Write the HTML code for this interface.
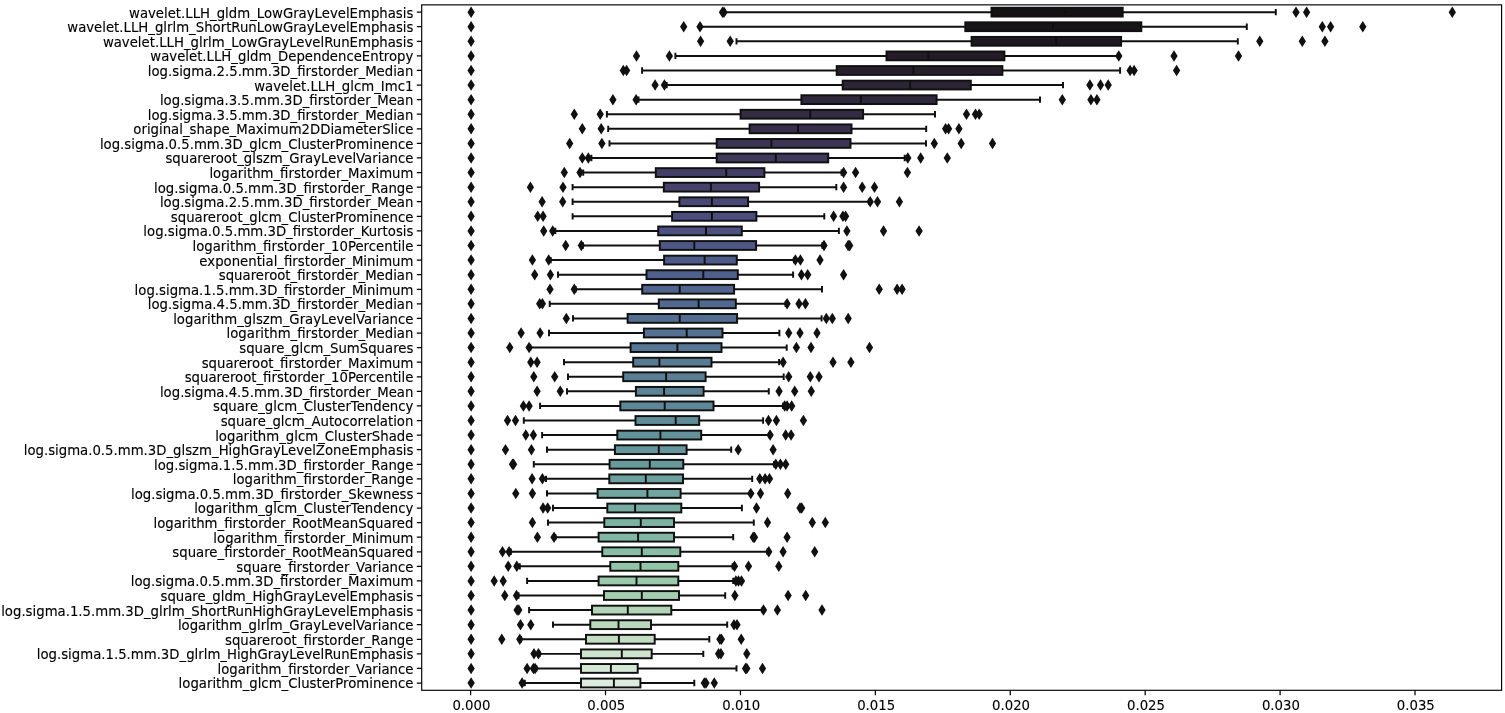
<!DOCTYPE html>
<html lang="en"><head><meta charset="utf-8"><title>Feature importance boxplot</title>
<style>html,body{margin:0;padding:0;background:#fff}body{width:1505px;height:713px;overflow:hidden}svg{display:block}text{font-family:"DejaVu Sans","Liberation Sans",sans-serif;font-size:13.27px;fill:#000;stroke:#000;stroke-width:.12px}.yl{text-anchor:end}.xl{text-anchor:middle}.w{stroke:#101010;stroke-width:1.95;fill:none;stroke-linecap:square}.b{stroke:#101010;stroke-width:1.95}.d{fill:#101010;stroke:#101010;stroke-width:0}.t{stroke:#000;stroke-width:1.25;fill:none}</style></head><body>
<svg width="1505" height="713" viewBox="0 0 1505 713">
<rect x="0" y="0" width="1505" height="713" fill="#fff"/>
<g><text class="yl" x="413.4" y="18">wavelet.LLH_gldm_LowGrayLevelEmphasis</text><text class="yl" x="413.4" y="32">wavelet.LLH_glrlm_ShortRunLowGrayLevelEmphasis</text><text class="yl" x="413.4" y="47">wavelet.LLH_glrlm_LowGrayLevelRunEmphasis</text><text class="yl" x="413.4" y="61">wavelet.LLH_gldm_DependenceEntropy</text><text class="yl" x="413.4" y="76">log.sigma.2.5.mm.3D_firstorder_Median</text><text class="yl" x="413.4" y="91">wavelet.LLH_glcm_Imc1</text><text class="yl" x="413.4" y="105">log.sigma.3.5.mm.3D_firstorder_Mean</text><text class="yl" x="413.4" y="120">log.sigma.3.5.mm.3D_firstorder_Median</text><text class="yl" x="413.4" y="134">original_shape_Maximum2DDiameterSlice</text><text class="yl" x="413.4" y="149">log.sigma.0.5.mm.3D_glcm_ClusterProminence</text><text class="yl" x="413.4" y="163">squareroot_glszm_GrayLevelVariance</text><text class="yl" x="413.4" y="178">logarithm_firstorder_Maximum</text><text class="yl" x="413.4" y="193">log.sigma.0.5.mm.3D_firstorder_Range</text><text class="yl" x="413.4" y="207">log.sigma.2.5.mm.3D_firstorder_Mean</text><text class="yl" x="413.4" y="222">squareroot_glcm_ClusterProminence</text><text class="yl" x="413.4" y="236">log.sigma.0.5.mm.3D_firstorder_Kurtosis</text><text class="yl" x="413.4" y="251">logarithm_firstorder_10Percentile</text><text class="yl" x="413.4" y="266">exponential_firstorder_Minimum</text><text class="yl" x="413.4" y="280">squareroot_firstorder_Median</text><text class="yl" x="413.4" y="295">log.sigma.1.5.mm.3D_firstorder_Minimum</text><text class="yl" x="413.4" y="309">log.sigma.4.5.mm.3D_firstorder_Median</text><text class="yl" x="413.4" y="324">logarithm_glszm_GrayLevelVariance</text><text class="yl" x="413.4" y="338">logarithm_firstorder_Median</text><text class="yl" x="413.4" y="353">square_glcm_SumSquares</text><text class="yl" x="413.4" y="368">squareroot_firstorder_Maximum</text><text class="yl" x="413.4" y="382">squareroot_firstorder_10Percentile</text><text class="yl" x="413.4" y="397">log.sigma.4.5.mm.3D_firstorder_Mean</text><text class="yl" x="413.4" y="411">square_glcm_ClusterTendency</text><text class="yl" x="413.4" y="426">square_glcm_Autocorrelation</text><text class="yl" x="413.4" y="441">logarithm_glcm_ClusterShade</text><text class="yl" x="413.4" y="455">log.sigma.0.5.mm.3D_glszm_HighGrayLevelZoneEmphasis</text><text class="yl" x="413.4" y="470">log.sigma.1.5.mm.3D_firstorder_Range</text><text class="yl" x="413.4" y="484">logarithm_firstorder_Range</text><text class="yl" x="413.4" y="499">log.sigma.0.5.mm.3D_firstorder_Skewness</text><text class="yl" x="413.4" y="513">logarithm_glcm_ClusterTendency</text><text class="yl" x="413.4" y="528">logarithm_firstorder_RootMeanSquared</text><text class="yl" x="413.4" y="543">logarithm_firstorder_Minimum</text><text class="yl" x="413.4" y="557">square_firstorder_RootMeanSquared</text><text class="yl" x="413.4" y="572">square_firstorder_Variance</text><text class="yl" x="413.4" y="586">log.sigma.0.5.mm.3D_firstorder_Maximum</text><text class="yl" x="413.4" y="601">square_gldm_HighGrayLevelEmphasis</text><text class="yl" x="413.4" y="616">log.sigma.1.5.mm.3D_glrlm_ShortRunHighGrayLevelEmphasis</text><text class="yl" x="413.4" y="630">logarithm_glrlm_GrayLevelVariance</text><text class="yl" x="413.4" y="645">squareroot_firstorder_Range</text><text class="yl" x="413.4" y="659">log.sigma.1.5.mm.3D_glrlm_HighGrayLevelRunEmphasis</text><text class="yl" x="413.4" y="674">logarithm_firstorder_Variance</text><text class="yl" x="413.4" y="688">logarithm_glcm_ClusterProminence</text></g>
<path class="t" d="M416.8 12.15H421.7M416.8 26.73H421.7M416.8 41.32H421.7M416.8 55.9H421.7M416.8 70.49H421.7M416.8 85.07H421.7M416.8 99.65H421.7M416.8 114.24H421.7M416.8 128.82H421.7M416.8 143.41H421.7M416.8 157.99H421.7M416.8 172.57H421.7M416.8 187.16H421.7M416.8 201.74H421.7M416.8 216.33H421.7M416.8 230.91H421.7M416.8 245.49H421.7M416.8 260.08H421.7M416.8 274.66H421.7M416.8 289.25H421.7M416.8 303.83H421.7M416.8 318.41H421.7M416.8 333H421.7M416.8 347.58H421.7M416.8 362.17H421.7M416.8 376.75H421.7M416.8 391.33H421.7M416.8 405.92H421.7M416.8 420.5H421.7M416.8 435.09H421.7M416.8 449.67H421.7M416.8 464.25H421.7M416.8 478.84H421.7M416.8 493.42H421.7M416.8 508.01H421.7M416.8 522.59H421.7M416.8 537.17H421.7M416.8 551.76H421.7M416.8 566.34H421.7M416.8 580.93H421.7M416.8 595.51H421.7M416.8 610.09H421.7M416.8 624.68H421.7M416.8 639.26H421.7M416.8 653.85H421.7M416.8 668.43H421.7M416.8 683.01H421.7M470.6 690.3V695.2M605.51 690.3V695.2M740.43 690.3V695.2M875.34 690.3V695.2M1010.26 690.3V695.2M1145.17 690.3V695.2M1280.09 690.3V695.2M1415 690.3V695.2"/>
<text class="xl" x="471.4" y="710">0.000</text>
<text class="xl" x="606.31" y="710">0.005</text>
<text class="xl" x="741.23" y="710">0.010</text>
<text class="xl" x="876.14" y="710">0.015</text>
<text class="xl" x="1011.06" y="710">0.020</text>
<text class="xl" x="1145.97" y="710">0.025</text>
<text class="xl" x="1280.89" y="710">0.030</text>
<text class="xl" x="1415.8" y="710">0.035</text>
<path class="w" d="M725 12.15H991.5M1122.7 12.15H1275.8M725 9.95V14.35M1275.8 9.95V14.35"/>
<rect class="b" x="991.5" y="7.75" width="131.2" height="8.8" fill="#151114"/>
<path class="w" style="stroke-linecap:butt" d="M1065.3 7.75V16.55"/>
<path class="d" d="M471.1 6.4L474.75 12.15L471.1 17.9L467.45 12.15Z"/>
<path class="d" d="M722.5 6.4L726.15 12.15L722.5 17.9L718.85 12.15Z"/>
<path class="d" d="M724 6.4L727.65 12.15L724 17.9L720.35 12.15Z"/>
<path class="d" d="M1296 6.4L1299.65 12.15L1296 17.9L1292.35 12.15Z"/>
<path class="d" d="M1306.6 6.4L1310.25 12.15L1306.6 17.9L1302.95 12.15Z"/>
<path class="d" d="M1452.3 6.4L1455.95 12.15L1452.3 17.9L1448.65 12.15Z"/>
<path class="w" d="M701 26.73H965.3M1141.3 26.73H1246.8M701 24.53V28.93M1246.8 24.53V28.93"/>
<rect class="b" x="965.3" y="22.33" width="176" height="8.8" fill="#191419"/>
<path class="w" style="stroke-linecap:butt" d="M1053 22.33V31.13"/>
<path class="d" d="M471.1 20.98L474.75 26.73L471.1 32.48L467.45 26.73Z"/>
<path class="d" d="M683.7 20.98L687.35 26.73L683.7 32.48L680.05 26.73Z"/>
<path class="d" d="M700 20.98L703.65 26.73L700 32.48L696.35 26.73Z"/>
<path class="d" d="M1322.3 20.98L1325.95 26.73L1322.3 32.48L1318.65 26.73Z"/>
<path class="d" d="M1330.6 20.98L1334.25 26.73L1330.6 32.48L1326.95 26.73Z"/>
<path class="d" d="M1362.8 20.98L1366.45 26.73L1362.8 32.48L1359.15 26.73Z"/>
<path class="w" d="M736.5 41.32H971.6M1121.1 41.32H1237.8M736.5 39.12V43.52M1237.8 39.12V43.52"/>
<rect class="b" x="971.6" y="36.92" width="149.5" height="8.8" fill="#1e1820"/>
<path class="w" style="stroke-linecap:butt" d="M1056.3 36.92V45.72"/>
<path class="d" d="M471.1 35.57L474.75 41.32L471.1 47.07L467.45 41.32Z"/>
<path class="d" d="M700.6 35.57L704.25 41.32L700.6 47.07L696.95 41.32Z"/>
<path class="d" d="M730.2 35.57L733.85 41.32L730.2 47.07L726.55 41.32Z"/>
<path class="d" d="M1259.8 35.57L1263.45 41.32L1259.8 47.07L1256.15 41.32Z"/>
<path class="d" d="M1302.3 35.57L1305.95 41.32L1302.3 47.07L1298.65 41.32Z"/>
<path class="d" d="M1324.9 35.57L1328.55 41.32L1324.9 47.07L1321.25 41.32Z"/>
<path class="w" d="M675.4 55.9H886.5M1004.4 55.9H1117.8M675.4 53.7V58.1M1117.8 53.7V58.1"/>
<rect class="b" x="886.5" y="51.5" width="117.9" height="8.8" fill="#231c26"/>
<path class="w" style="stroke-linecap:butt" d="M928.5 51.5V60.3"/>
<path class="d" d="M471.1 50.15L474.75 55.9L471.1 61.65L467.45 55.9Z"/>
<path class="d" d="M636.5 50.15L640.15 55.9L636.5 61.65L632.85 55.9Z"/>
<path class="d" d="M669.4 50.15L673.05 55.9L669.4 61.65L665.75 55.9Z"/>
<path class="d" d="M1118.8 50.15L1122.45 55.9L1118.8 61.65L1115.15 55.9Z"/>
<path class="d" d="M1174 50.15L1177.65 55.9L1174 61.65L1170.35 55.9Z"/>
<path class="d" d="M1238.5 50.15L1242.15 55.9L1238.5 61.65L1234.85 55.9Z"/>
<path class="w" d="M642.1 70.49H836.7M1002.4 70.49H1120.1M642.1 68.29V72.69M1120.1 68.29V72.69"/>
<rect class="b" x="836.7" y="66.09" width="165.7" height="8.8" fill="#27202c"/>
<path class="w" style="stroke-linecap:butt" d="M913.4 66.09V74.89"/>
<path class="d" d="M471.1 64.74L474.75 70.49L471.1 76.24L467.45 70.49Z"/>
<path class="d" d="M623.3 64.74L626.95 70.49L623.3 76.24L619.65 70.49Z"/>
<path class="d" d="M626.6 64.74L630.25 70.49L626.6 76.24L622.95 70.49Z"/>
<path class="d" d="M1130.1 64.74L1133.75 70.49L1130.1 76.24L1126.45 70.49Z"/>
<path class="d" d="M1134.1 64.74L1137.75 70.49L1134.1 76.24L1130.45 70.49Z"/>
<path class="d" d="M1176.6 64.74L1180.25 70.49L1176.6 76.24L1172.95 70.49Z"/>
<path class="w" d="M666.7 85.07H842.7M970.8 85.07H1063M666.7 82.87V87.27M1063 82.87V87.27"/>
<rect class="b" x="842.7" y="80.67" width="128.1" height="8.8" fill="#2c2434"/>
<path class="w" style="stroke-linecap:butt" d="M910.1 80.67V89.47"/>
<path class="d" d="M471.1 79.32L474.75 85.07L471.1 90.82L467.45 85.07Z"/>
<path class="d" d="M655.1 79.32L658.75 85.07L655.1 90.82L651.45 85.07Z"/>
<path class="d" d="M664.4 79.32L668.05 85.07L664.4 90.82L660.75 85.07Z"/>
<path class="d" d="M1089.9 79.32L1093.55 85.07L1089.9 90.82L1086.25 85.07Z"/>
<path class="d" d="M1100.5 79.32L1104.15 85.07L1100.5 90.82L1096.85 85.07Z"/>
<path class="d" d="M1108.2 79.32L1111.85 85.07L1108.2 90.82L1104.55 85.07Z"/>
<path class="w" d="M638.5 99.65H801.4M936.6 99.65H1040M638.5 97.45V101.85M1040 97.45V101.85"/>
<rect class="b" x="801.4" y="95.25" width="135.2" height="8.8" fill="#30283b"/>
<path class="w" style="stroke-linecap:butt" d="M860.9 95.25V104.05"/>
<path class="d" d="M471.1 93.9L474.75 99.65L471.1 105.4L467.45 99.65Z"/>
<path class="d" d="M612.9 93.9L616.55 99.65L612.9 105.4L609.25 99.65Z"/>
<path class="d" d="M636.1 93.9L639.75 99.65L636.1 105.4L632.45 99.65Z"/>
<path class="d" d="M1062.3 93.9L1065.95 99.65L1062.3 105.4L1058.65 99.65Z"/>
<path class="d" d="M1090.9 93.9L1094.55 99.65L1090.9 105.4L1087.25 99.65Z"/>
<path class="d" d="M1096.9 93.9L1100.55 99.65L1096.9 105.4L1093.25 99.65Z"/>
<path class="w" d="M606.9 114.24H740.6M863.1 114.24H935M606.9 112.04V116.44M935 112.04V116.44"/>
<rect class="b" x="740.6" y="109.84" width="122.5" height="8.8" fill="#342c42"/>
<path class="w" style="stroke-linecap:butt" d="M810.3 109.84V118.64"/>
<path class="d" d="M471.1 108.49L474.75 114.24L471.1 119.99L467.45 114.24Z"/>
<path class="d" d="M574.3 108.49L577.95 114.24L574.3 119.99L570.65 114.24Z"/>
<path class="d" d="M600.2 108.49L603.85 114.24L600.2 119.99L596.55 114.24Z"/>
<path class="d" d="M966.5 108.49L970.15 114.24L966.5 119.99L962.85 114.24Z"/>
<path class="d" d="M975.5 108.49L979.15 114.24L975.5 119.99L971.85 114.24Z"/>
<path class="d" d="M979.2 108.49L982.85 114.24L979.2 119.99L975.55 114.24Z"/>
<path class="w" d="M608.2 128.82H749.6M851.5 128.82H926.2M608.2 126.62V131.02M926.2 126.62V131.02"/>
<rect class="b" x="749.6" y="124.42" width="101.9" height="8.8" fill="#38304b"/>
<path class="w" style="stroke-linecap:butt" d="M798 124.42V133.22"/>
<path class="d" d="M471.1 123.07L474.75 128.82L471.1 134.57L467.45 128.82Z"/>
<path class="d" d="M582.3 123.07L585.95 128.82L582.3 134.57L578.65 128.82Z"/>
<path class="d" d="M601.2 123.07L604.85 128.82L601.2 134.57L597.55 128.82Z"/>
<path class="d" d="M945.6 123.07L949.25 128.82L945.6 134.57L941.95 128.82Z"/>
<path class="d" d="M948.6 123.07L952.25 128.82L948.6 134.57L944.95 128.82Z"/>
<path class="d" d="M958.9 123.07L962.55 128.82L958.9 134.57L955.25 128.82Z"/>
<path class="w" d="M609.5 143.41H716.7M850.5 143.41H926M609.5 141.21V145.61M926 141.21V145.61"/>
<rect class="b" x="716.7" y="139.01" width="133.8" height="8.8" fill="#3b3452"/>
<path class="w" style="stroke-linecap:butt" d="M771.4 139.01V147.81"/>
<path class="d" d="M471.1 137.66L474.75 143.41L471.1 149.16L467.45 143.41Z"/>
<path class="d" d="M569.7 137.66L573.35 143.41L569.7 149.16L566.05 143.41Z"/>
<path class="d" d="M601.9 137.66L605.55 143.41L601.9 149.16L598.25 143.41Z"/>
<path class="d" d="M934.3 137.66L937.95 143.41L934.3 149.16L930.65 143.41Z"/>
<path class="d" d="M961.2 137.66L964.85 143.41L961.2 149.16L957.55 143.41Z"/>
<path class="d" d="M992.5 137.66L996.15 143.41L992.5 149.16L988.85 143.41Z"/>
<path class="w" d="M591.4 157.99H716.7M828.2 157.99H904.7M591.4 155.79V160.19M904.7 155.79V160.19"/>
<rect class="b" x="716.7" y="153.59" width="111.5" height="8.8" fill="#3f395a"/>
<path class="w" style="stroke-linecap:butt" d="M775.8 153.59V162.39"/>
<path class="d" d="M471.1 152.24L474.75 157.99L471.1 163.74L467.45 157.99Z"/>
<path class="d" d="M582.3 152.24L585.95 157.99L582.3 163.74L578.65 157.99Z"/>
<path class="d" d="M588.3 152.24L591.95 157.99L588.3 163.74L584.65 157.99Z"/>
<path class="d" d="M907.8 152.24L911.45 157.99L907.8 163.74L904.15 157.99Z"/>
<path class="d" d="M920.7 152.24L924.35 157.99L920.7 163.74L917.05 157.99Z"/>
<path class="d" d="M947.3 152.24L950.95 157.99L947.3 163.74L943.65 157.99Z"/>
<path class="w" d="M583.2 172.57H655.8M764.4 172.57H841.6M583.2 170.37V174.77M841.6 170.37V174.77"/>
<rect class="b" x="655.8" y="168.17" width="108.6" height="8.8" fill="#433e63"/>
<path class="w" style="stroke-linecap:butt" d="M726.2 168.17V176.97"/>
<path class="d" d="M471.1 166.82L474.75 172.57L471.1 178.32L467.45 172.57Z"/>
<path class="d" d="M564.3 166.82L567.95 172.57L564.3 178.32L560.65 172.57Z"/>
<path class="d" d="M580 166.82L583.65 172.57L580 178.32L576.35 172.57Z"/>
<path class="d" d="M843.6 166.82L847.25 172.57L843.6 178.32L839.95 172.57Z"/>
<path class="d" d="M855.6 166.82L859.25 172.57L855.6 178.32L851.95 172.57Z"/>
<path class="d" d="M907.4 166.82L911.05 172.57L907.4 178.32L903.75 172.57Z"/>
<path class="w" d="M572.6 187.16H663.8M759.1 187.16H836.3M572.6 184.96V189.36M836.3 184.96V189.36"/>
<rect class="b" x="663.8" y="182.76" width="95.3" height="8.8" fill="#46426b"/>
<path class="w" style="stroke-linecap:butt" d="M710.9 182.76V191.56"/>
<path class="d" d="M471.1 181.41L474.75 187.16L471.1 192.91L467.45 187.16Z"/>
<path class="d" d="M530.4 181.41L534.05 187.16L530.4 192.91L526.75 187.16Z"/>
<path class="d" d="M563 181.41L566.65 187.16L563 192.91L559.35 187.16Z"/>
<path class="d" d="M843.6 181.41L847.25 187.16L843.6 192.91L839.95 187.16Z"/>
<path class="d" d="M862.2 181.41L865.85 187.16L862.2 192.91L858.55 187.16Z"/>
<path class="d" d="M874.5 181.41L878.15 187.16L874.5 192.91L870.85 187.16Z"/>
<path class="w" d="M572.6 201.74H679.4M748.1 201.74H868.9M572.6 199.54V203.94M868.9 199.54V203.94"/>
<rect class="b" x="679.4" y="197.34" width="68.7" height="8.8" fill="#494773"/>
<path class="w" style="stroke-linecap:butt" d="M711.9 197.34V206.14"/>
<path class="d" d="M471.1 195.99L474.75 201.74L471.1 207.49L467.45 201.74Z"/>
<path class="d" d="M542.1 195.99L545.75 201.74L542.1 207.49L538.45 201.74Z"/>
<path class="d" d="M562.7 195.99L566.35 201.74L562.7 207.49L559.05 201.74Z"/>
<path class="d" d="M870.2 195.99L873.85 201.74L870.2 207.49L866.55 201.74Z"/>
<path class="d" d="M877.5 195.99L881.15 201.74L877.5 207.49L873.85 201.74Z"/>
<path class="d" d="M899.4 195.99L903.05 201.74L899.4 207.49L895.75 201.74Z"/>
<path class="w" d="M572.6 216.33H672.1M756.4 216.33H824.3M572.6 214.13V218.53M824.3 214.13V218.53"/>
<rect class="b" x="672.1" y="211.93" width="84.3" height="8.8" fill="#4b4d7c"/>
<path class="w" style="stroke-linecap:butt" d="M711.9 211.93V220.73"/>
<path class="d" d="M471.1 210.58L474.75 216.33L471.1 222.08L467.45 216.33Z"/>
<path class="d" d="M537.7 210.58L541.35 216.33L537.7 222.08L534.05 216.33Z"/>
<path class="d" d="M543.1 210.58L546.75 216.33L543.1 222.08L539.45 216.33Z"/>
<path class="d" d="M833.6 210.58L837.25 216.33L833.6 222.08L829.95 216.33Z"/>
<path class="d" d="M842.9 210.58L846.55 216.33L842.9 222.08L839.25 216.33Z"/>
<path class="d" d="M845.6 210.58L849.25 216.33L845.6 222.08L841.95 216.33Z"/>
<path class="w" d="M555.3 230.91H658.2M741.8 230.91H838.9M555.3 228.71V233.11M838.9 228.71V233.11"/>
<rect class="b" x="658.2" y="226.51" width="83.6" height="8.8" fill="#4d5182"/>
<path class="w" style="stroke-linecap:butt" d="M706 226.51V235.31"/>
<path class="d" d="M471.1 225.16L474.75 230.91L471.1 236.66L467.45 230.91Z"/>
<path class="d" d="M543.7 225.16L547.35 230.91L543.7 236.66L540.05 230.91Z"/>
<path class="d" d="M552.7 225.16L556.35 230.91L552.7 236.66L549.05 230.91Z"/>
<path class="d" d="M846.9 225.16L850.55 230.91L846.9 236.66L843.25 230.91Z"/>
<path class="d" d="M883.5 225.16L887.15 230.91L883.5 236.66L879.85 230.91Z"/>
<path class="d" d="M919.1 225.16L922.75 230.91L919.1 236.66L915.45 230.91Z"/>
<path class="w" d="M583 245.49H659.8M756.1 245.49H822.3M583 243.29V247.69M822.3 243.29V247.69"/>
<rect class="b" x="659.8" y="241.09" width="96.3" height="8.8" fill="#4e5686"/>
<path class="w" style="stroke-linecap:butt" d="M694.3 241.09V249.89"/>
<path class="d" d="M471.1 239.74L474.75 245.49L471.1 251.24L467.45 245.49Z"/>
<path class="d" d="M565.7 239.74L569.35 245.49L565.7 251.24L562.05 245.49Z"/>
<path class="d" d="M581.3 239.74L584.95 245.49L581.3 251.24L577.65 245.49Z"/>
<path class="d" d="M824 239.74L827.65 245.49L824 251.24L820.35 245.49Z"/>
<path class="d" d="M848.2 239.74L851.85 245.49L848.2 251.24L844.55 245.49Z"/>
<path class="d" d="M849.7 239.74L853.35 245.49L849.7 251.24L846.05 245.49Z"/>
<path class="w" d="M550.7 260.08H664.1M736.8 260.08H794M550.7 257.88V262.28M794 257.88V262.28"/>
<rect class="b" x="664.1" y="255.68" width="72.7" height="8.8" fill="#4e5b8a"/>
<path class="w" style="stroke-linecap:butt" d="M704.6 255.68V264.48"/>
<path class="d" d="M471.1 254.33L474.75 260.08L471.1 265.83L467.45 260.08Z"/>
<path class="d" d="M532.4 254.33L536.05 260.08L532.4 265.83L528.75 260.08Z"/>
<path class="d" d="M548.7 254.33L552.35 260.08L548.7 265.83L545.05 260.08Z"/>
<path class="d" d="M795.4 254.33L799.05 260.08L795.4 265.83L791.75 260.08Z"/>
<path class="d" d="M800.4 254.33L804.05 260.08L800.4 265.83L796.75 260.08Z"/>
<path class="d" d="M820 254.33L823.65 260.08L820 265.83L816.35 260.08Z"/>
<path class="w" d="M558 274.66H646.5M737.8 274.66H793.1M558 272.46V276.86M793.1 272.46V276.86"/>
<rect class="b" x="646.5" y="270.26" width="91.3" height="8.8" fill="#4f608c"/>
<path class="w" style="stroke-linecap:butt" d="M703.3 270.26V279.06"/>
<path class="d" d="M471.1 268.91L474.75 274.66L471.1 280.41L467.45 274.66Z"/>
<path class="d" d="M534.7 268.91L538.35 274.66L534.7 280.41L531.05 274.66Z"/>
<path class="d" d="M550.4 268.91L554.05 274.66L550.4 280.41L546.75 274.66Z"/>
<path class="d" d="M801.4 268.91L805.05 274.66L801.4 280.41L797.75 274.66Z"/>
<path class="d" d="M807.7 268.91L811.35 274.66L807.7 280.41L804.05 274.66Z"/>
<path class="d" d="M843.6 268.91L847.25 274.66L843.6 280.41L839.95 274.66Z"/>
<path class="w" d="M575.6 289.25H642.2M734.1 289.25H822M575.6 287.05V291.45M822 287.05V291.45"/>
<rect class="b" x="642.2" y="284.85" width="91.9" height="8.8" fill="#50648e"/>
<path class="w" style="stroke-linecap:butt" d="M679.7 284.85V293.65"/>
<path class="d" d="M471.1 283.5L474.75 289.25L471.1 295L467.45 289.25Z"/>
<path class="d" d="M550 283.5L553.65 289.25L550 295L546.35 289.25Z"/>
<path class="d" d="M574.3 283.5L577.95 289.25L574.3 295L570.65 289.25Z"/>
<path class="d" d="M879.2 283.5L882.85 289.25L879.2 295L875.55 289.25Z"/>
<path class="d" d="M897.1 283.5L900.75 289.25L897.1 295L893.45 289.25Z"/>
<path class="d" d="M902.1 283.5L905.75 289.25L902.1 295L898.45 289.25Z"/>
<path class="w" d="M549.7 303.83H658.8M735.8 303.83H785.7M549.7 301.63V306.03M785.7 301.63V306.03"/>
<rect class="b" x="658.8" y="299.43" width="77" height="8.8" fill="#51698f"/>
<path class="w" style="stroke-linecap:butt" d="M698.6 299.43V308.23"/>
<path class="d" d="M471.1 298.08L474.75 303.83L471.1 309.58L467.45 303.83Z"/>
<path class="d" d="M539.7 298.08L543.35 303.83L539.7 309.58L536.05 303.83Z"/>
<path class="d" d="M542.4 298.08L546.05 303.83L542.4 309.58L538.75 303.83Z"/>
<path class="d" d="M787.1 298.08L790.75 303.83L787.1 309.58L783.45 303.83Z"/>
<path class="d" d="M799 298.08L802.65 303.83L799 309.58L795.35 303.83Z"/>
<path class="d" d="M805.4 298.08L809.05 303.83L805.4 309.58L801.75 303.83Z"/>
<path class="w" d="M573 318.41H627.6M737.1 318.41H821.6M573 316.21V320.61M821.6 316.21V320.61"/>
<rect class="b" x="627.6" y="314.01" width="109.5" height="8.8" fill="#536d90"/>
<path class="w" style="stroke-linecap:butt" d="M679.7 314.01V322.81"/>
<path class="d" d="M471.1 312.66L474.75 318.41L471.1 324.16L467.45 318.41Z"/>
<path class="d" d="M566.3 312.66L569.95 318.41L566.3 324.16L562.65 318.41Z"/>
<path class="d" d="M826.3 312.66L829.95 318.41L826.3 324.16L822.65 318.41Z"/>
<path class="d" d="M832.3 312.66L835.95 318.41L832.3 324.16L828.65 318.41Z"/>
<path class="d" d="M848.2 312.66L851.85 318.41L848.2 324.16L844.55 318.41Z"/>
<path class="w" d="M549 333H643.9M722.5 333H779.4M549 330.8V335.2M779.4 330.8V335.2"/>
<rect class="b" x="643.9" y="328.6" width="78.6" height="8.8" fill="#547191"/>
<path class="w" style="stroke-linecap:butt" d="M686.7 328.6V337.4"/>
<path class="d" d="M471.1 327.25L474.75 333L471.1 338.75L467.45 333Z"/>
<path class="d" d="M521.1 327.25L524.75 333L521.1 338.75L517.45 333Z"/>
<path class="d" d="M540.1 327.25L543.75 333L540.1 338.75L536.45 333Z"/>
<path class="d" d="M788.7 327.25L792.35 333L788.7 338.75L785.05 333Z"/>
<path class="d" d="M800 327.25L803.65 333L800 338.75L796.35 333Z"/>
<path class="d" d="M817 327.25L820.65 333L817 338.75L813.35 333Z"/>
<path class="w" d="M530.4 347.58H630.6M721.5 347.58H786.7M530.4 345.38V349.78M786.7 345.38V349.78"/>
<rect class="b" x="630.6" y="343.18" width="90.9" height="8.8" fill="#567693"/>
<path class="w" style="stroke-linecap:butt" d="M677.4 343.18V351.98"/>
<path class="d" d="M471.1 341.83L474.75 347.58L471.1 353.33L467.45 347.58Z"/>
<path class="d" d="M509.8 341.83L513.45 347.58L509.8 353.33L506.15 347.58Z"/>
<path class="d" d="M529.1 341.83L532.75 347.58L529.1 353.33L525.45 347.58Z"/>
<path class="d" d="M796.4 341.83L800.05 347.58L796.4 353.33L792.75 347.58Z"/>
<path class="d" d="M811 341.83L814.65 347.58L811 353.33L807.35 347.58Z"/>
<path class="d" d="M869.5 341.83L873.15 347.58L869.5 353.33L865.85 347.58Z"/>
<path class="w" d="M564 362.17H633.2M711.5 362.17H779.1M564 359.97V364.37M779.1 359.97V364.37"/>
<rect class="b" x="633.2" y="357.77" width="78.3" height="8.8" fill="#587b94"/>
<path class="w" style="stroke-linecap:butt" d="M659.4 357.77V366.57"/>
<path class="d" d="M471.1 356.42L474.75 362.17L471.1 367.92L467.45 362.17Z"/>
<path class="d" d="M530.8 356.42L534.45 362.17L530.8 367.92L527.15 362.17Z"/>
<path class="d" d="M537.1 356.42L540.75 362.17L537.1 367.92L533.45 362.17Z"/>
<path class="d" d="M783.1 356.42L786.75 362.17L783.1 367.92L779.45 362.17Z"/>
<path class="d" d="M833 356.42L836.65 362.17L833 367.92L829.35 362.17Z"/>
<path class="d" d="M850.9 356.42L854.55 362.17L850.9 367.92L847.25 362.17Z"/>
<path class="w" d="M568 376.75H623.2M705.6 376.75H783.7M568 374.55V378.95M783.7 374.55V378.95"/>
<rect class="b" x="623.2" y="372.35" width="82.4" height="8.8" fill="#5a7f95"/>
<path class="w" style="stroke-linecap:butt" d="M666.1 372.35V381.15"/>
<path class="d" d="M471.1 371L474.75 376.75L471.1 382.5L467.45 376.75Z"/>
<path class="d" d="M533.8 371L537.45 376.75L533.8 382.5L530.15 376.75Z"/>
<path class="d" d="M554.7 371L558.35 376.75L554.7 382.5L551.05 376.75Z"/>
<path class="d" d="M788.7 371L792.35 376.75L788.7 382.5L785.05 376.75Z"/>
<path class="d" d="M810.3 371L813.95 376.75L810.3 382.5L806.65 376.75Z"/>
<path class="d" d="M819 371L822.65 376.75L819 382.5L815.35 376.75Z"/>
<path class="w" d="M567 391.33H635.9M703.6 391.33H768.8M567 389.13V393.53M768.8 389.13V393.53"/>
<rect class="b" x="635.9" y="386.93" width="67.7" height="8.8" fill="#5c8496"/>
<path class="w" style="stroke-linecap:butt" d="M664.1 386.93V395.73"/>
<path class="d" d="M471.1 385.58L474.75 391.33L471.1 397.08L467.45 391.33Z"/>
<path class="d" d="M537.1 385.58L540.75 391.33L537.1 397.08L533.45 391.33Z"/>
<path class="d" d="M560.3 385.58L563.95 391.33L560.3 397.08L556.65 391.33Z"/>
<path class="d" d="M779.1 385.58L782.75 391.33L779.1 397.08L775.45 391.33Z"/>
<path class="d" d="M794.7 385.58L798.35 391.33L794.7 397.08L791.05 391.33Z"/>
<path class="d" d="M811.3 385.58L814.95 391.33L811.3 397.08L807.65 391.33Z"/>
<path class="w" d="M540.1 405.92H620.3M713.5 405.92H783.1M540.1 403.72V408.12M783.1 403.72V408.12"/>
<rect class="b" x="620.3" y="401.52" width="93.2" height="8.8" fill="#5e8898"/>
<path class="w" style="stroke-linecap:butt" d="M664.7 401.52V410.32"/>
<path class="d" d="M471.1 400.17L474.75 405.92L471.1 411.67L467.45 405.92Z"/>
<path class="d" d="M523.4 400.17L527.05 405.92L523.4 411.67L519.75 405.92Z"/>
<path class="d" d="M529.1 400.17L532.75 405.92L529.1 411.67L525.45 405.92Z"/>
<path class="d" d="M784.7 400.17L788.35 405.92L784.7 411.67L781.05 405.92Z"/>
<path class="d" d="M787.1 400.17L790.75 405.92L787.1 411.67L783.45 405.92Z"/>
<path class="d" d="M791.7 400.17L795.35 405.92L791.7 411.67L788.05 405.92Z"/>
<path class="w" d="M523.8 420.5H635.5M699.2 420.5H763.1M523.8 418.3V422.7M763.1 418.3V422.7"/>
<rect class="b" x="635.5" y="416.1" width="63.7" height="8.8" fill="#608c99"/>
<path class="w" style="stroke-linecap:butt" d="M675.7 416.1V424.9"/>
<path class="d" d="M471.1 414.75L474.75 420.5L471.1 426.25L467.45 420.5Z"/>
<path class="d" d="M507.5 414.75L511.15 420.5L507.5 426.25L503.85 420.5Z"/>
<path class="d" d="M515.5 414.75L519.15 420.5L515.5 426.25L511.85 420.5Z"/>
<path class="d" d="M768.5 414.75L772.15 420.5L768.5 426.25L764.85 420.5Z"/>
<path class="d" d="M776.4 414.75L780.05 420.5L776.4 426.25L772.75 420.5Z"/>
<path class="d" d="M803.4 414.75L807.05 420.5L803.4 426.25L799.75 420.5Z"/>
<path class="w" d="M542.1 435.09H617.3M701.2 435.09H769.1M542.1 432.89V437.29M769.1 432.89V437.29"/>
<rect class="b" x="617.3" y="430.69" width="83.9" height="8.8" fill="#63929a"/>
<path class="w" style="stroke-linecap:butt" d="M660.4 430.69V439.49"/>
<path class="d" d="M471.1 429.34L474.75 435.09L471.1 440.84L467.45 435.09Z"/>
<path class="d" d="M525.8 429.34L529.45 435.09L525.8 440.84L522.15 435.09Z"/>
<path class="d" d="M533.4 429.34L537.05 435.09L533.4 440.84L529.75 435.09Z"/>
<path class="d" d="M770.1 429.34L773.75 435.09L770.1 440.84L766.45 435.09Z"/>
<path class="d" d="M785.7 429.34L789.35 435.09L785.7 440.84L782.05 435.09Z"/>
<path class="d" d="M791.1 429.34L794.75 435.09L791.1 440.84L787.45 435.09Z"/>
<path class="w" d="M547 449.67H614.9M686.6 449.67H731.2M547 447.47V451.87M731.2 447.47V451.87"/>
<rect class="b" x="614.9" y="445.27" width="71.7" height="8.8" fill="#65969b"/>
<path class="w" style="stroke-linecap:butt" d="M658.8 445.27V454.07"/>
<path class="d" d="M471.1 443.92L474.75 449.67L471.1 455.42L467.45 449.67Z"/>
<path class="d" d="M505.5 443.92L509.15 449.67L505.5 455.42L501.85 449.67Z"/>
<path class="d" d="M531.4 443.92L535.05 449.67L531.4 455.42L527.75 449.67Z"/>
<path class="d" d="M738.2 443.92L741.85 449.67L738.2 455.42L734.55 449.67Z"/>
<path class="d" d="M773.1 443.92L776.75 449.67L773.1 455.42L769.45 449.67Z"/>
<path class="w" d="M533.8 464.25H609.6M683.3 464.25H774.1M533.8 462.05V466.45M774.1 462.05V466.45"/>
<rect class="b" x="609.6" y="459.85" width="73.7" height="8.8" fill="#689a9c"/>
<path class="w" style="stroke-linecap:butt" d="M649.8 459.85V468.65"/>
<path class="d" d="M471.1 458.5L474.75 464.25L471.1 470L467.45 464.25Z"/>
<path class="d" d="M512.5 458.5L516.15 464.25L512.5 470L508.85 464.25Z"/>
<path class="d" d="M513.6 458.5L517.25 464.25L513.6 470L509.95 464.25Z"/>
<path class="d" d="M775.8 458.5L779.45 464.25L775.8 470L772.15 464.25Z"/>
<path class="d" d="M780.4 458.5L784.05 464.25L780.4 470L776.75 464.25Z"/>
<path class="d" d="M785.7 458.5L789.35 464.25L785.7 470L782.05 464.25Z"/>
<path class="w" d="M546 478.84H609.3M683 478.84H752.2M546 476.64V481.04M752.2 476.64V481.04"/>
<rect class="b" x="609.3" y="474.44" width="73.7" height="8.8" fill="#6ca09e"/>
<path class="w" style="stroke-linecap:butt" d="M645.8 474.44V483.24"/>
<path class="d" d="M471.1 473.09L474.75 478.84L471.1 484.59L467.45 478.84Z"/>
<path class="d" d="M532.1 473.09L535.75 478.84L532.1 484.59L528.45 478.84Z"/>
<path class="d" d="M542.4 473.09L546.05 478.84L542.4 484.59L538.75 478.84Z"/>
<path class="d" d="M759.8 473.09L763.45 478.84L759.8 484.59L756.15 478.84Z"/>
<path class="d" d="M765.1 473.09L768.75 478.84L765.1 484.59L761.45 478.84Z"/>
<path class="d" d="M769.5 473.09L773.15 478.84L769.5 484.59L765.85 478.84Z"/>
<path class="w" d="M547 493.42H597.6M680.6 493.42H749.8M547 491.22V495.62M749.8 491.22V495.62"/>
<rect class="b" x="597.6" y="489.02" width="83" height="8.8" fill="#70a69f"/>
<path class="w" style="stroke-linecap:butt" d="M647.4 489.02V497.82"/>
<path class="d" d="M471.1 487.67L474.75 493.42L471.1 499.17L467.45 493.42Z"/>
<path class="d" d="M515.8 487.67L519.45 493.42L515.8 499.17L512.15 493.42Z"/>
<path class="d" d="M532.4 487.67L536.05 493.42L532.4 499.17L528.75 493.42Z"/>
<path class="d" d="M750.8 487.67L754.45 493.42L750.8 499.17L747.15 493.42Z"/>
<path class="d" d="M760.5 487.67L764.15 493.42L760.5 499.17L756.85 493.42Z"/>
<path class="d" d="M787.7 487.67L791.35 493.42L787.7 499.17L784.05 493.42Z"/>
<path class="w" d="M553 508.01H607.3M681.3 508.01H741.9M553 505.81V510.21M741.9 505.81V510.21"/>
<rect class="b" x="607.3" y="503.61" width="74" height="8.8" fill="#75aba1"/>
<path class="w" style="stroke-linecap:butt" d="M635.1 503.61V512.41"/>
<path class="d" d="M471.1 502.26L474.75 508.01L471.1 513.76L467.45 508.01Z"/>
<path class="d" d="M543.1 502.26L546.75 508.01L543.1 513.76L539.45 508.01Z"/>
<path class="d" d="M547.7 502.26L551.35 508.01L547.7 513.76L544.05 508.01Z"/>
<path class="d" d="M756.5 502.26L760.15 508.01L756.5 513.76L752.85 508.01Z"/>
<path class="d" d="M800 502.26L803.65 508.01L800 513.76L796.35 508.01Z"/>
<path class="d" d="M801.7 502.26L805.35 508.01L801.7 513.76L798.05 508.01Z"/>
<path class="w" d="M548 522.59H604.3M674 522.59H753.8M548 520.39V524.79M753.8 520.39V524.79"/>
<rect class="b" x="604.3" y="518.19" width="69.7" height="8.8" fill="#7bb2a3"/>
<path class="w" style="stroke-linecap:butt" d="M640.8 518.19V526.99"/>
<path class="d" d="M471.1 516.84L474.75 522.59L471.1 528.34L467.45 522.59Z"/>
<path class="d" d="M532.4 516.84L536.05 522.59L532.4 528.34L528.75 522.59Z"/>
<path class="d" d="M767.5 516.84L771.15 522.59L767.5 528.34L763.85 522.59Z"/>
<path class="d" d="M812.3 516.84L815.95 522.59L812.3 528.34L808.65 522.59Z"/>
<path class="d" d="M825.3 516.84L828.95 522.59L825.3 528.34L821.65 522.59Z"/>
<path class="w" d="M555.4 537.17H598.6M674 537.17H733.2M555.4 534.97V539.37M733.2 534.97V539.37"/>
<rect class="b" x="598.6" y="532.77" width="75.4" height="8.8" fill="#81b7a4"/>
<path class="w" style="stroke-linecap:butt" d="M638.1 532.77V541.57"/>
<path class="d" d="M471.1 531.42L474.75 537.17L471.1 542.92L467.45 537.17Z"/>
<path class="d" d="M537.4 531.42L541.05 537.17L537.4 542.92L533.75 537.17Z"/>
<path class="d" d="M554 531.42L557.65 537.17L554 542.92L550.35 537.17Z"/>
<path class="d" d="M753.2 531.42L756.85 537.17L753.2 542.92L749.55 537.17Z"/>
<path class="d" d="M754.5 531.42L758.15 537.17L754.5 542.92L750.85 537.17Z"/>
<path class="d" d="M787.1 531.42L790.75 537.17L787.1 542.92L783.45 537.17Z"/>
<path class="w" d="M510.8 551.76H602.3M680.3 551.76H767.5M510.8 549.56V553.96M767.5 549.56V553.96"/>
<rect class="b" x="602.3" y="547.36" width="78" height="8.8" fill="#88bda6"/>
<path class="w" style="stroke-linecap:butt" d="M641.8 547.36V556.16"/>
<path class="d" d="M471.1 546.01L474.75 551.76L471.1 557.51L467.45 551.76Z"/>
<path class="d" d="M502.5 546.01L506.15 551.76L502.5 557.51L498.85 551.76Z"/>
<path class="d" d="M509.1 546.01L512.75 551.76L509.1 557.51L505.45 551.76Z"/>
<path class="d" d="M768.8 546.01L772.45 551.76L768.8 557.51L765.15 551.76Z"/>
<path class="d" d="M783.1 546.01L786.75 551.76L783.1 557.51L779.45 551.76Z"/>
<path class="d" d="M814.7 546.01L818.35 551.76L814.7 557.51L811.05 551.76Z"/>
<path class="w" d="M519.8 566.34H610.3M678.3 566.34H732.6M519.8 564.14V568.54M732.6 564.14V568.54"/>
<rect class="b" x="610.3" y="561.94" width="68" height="8.8" fill="#92c4a9"/>
<path class="w" style="stroke-linecap:butt" d="M640.5 561.94V570.74"/>
<path class="d" d="M471.1 560.59L474.75 566.34L471.1 572.09L467.45 566.34Z"/>
<path class="d" d="M508.2 560.59L511.85 566.34L508.2 572.09L504.55 566.34Z"/>
<path class="d" d="M516.8 560.59L520.45 566.34L516.8 572.09L513.15 566.34Z"/>
<path class="d" d="M734.5 560.59L738.15 566.34L734.5 572.09L730.85 566.34Z"/>
<path class="d" d="M748.5 560.59L752.15 566.34L748.5 572.09L744.85 566.34Z"/>
<path class="d" d="M778.8 560.59L782.45 566.34L778.8 572.09L775.15 566.34Z"/>
<path class="w" d="M527.1 580.93H598.6M678.3 580.93H733.2M527.1 578.73V583.13M733.2 578.73V583.13"/>
<rect class="b" x="598.6" y="576.53" width="79.7" height="8.8" fill="#9bc9ac"/>
<path class="w" style="stroke-linecap:butt" d="M636.5 576.53V585.33"/>
<path class="d" d="M471.1 575.18L474.75 580.93L471.1 586.68L467.45 580.93Z"/>
<path class="d" d="M494.2 575.18L497.85 580.93L494.2 586.68L490.55 580.93Z"/>
<path class="d" d="M503.2 575.18L506.85 580.93L503.2 586.68L499.55 580.93Z"/>
<path class="d" d="M735.9 575.18L739.55 580.93L735.9 586.68L732.25 580.93Z"/>
<path class="d" d="M738.5 575.18L742.15 580.93L738.5 586.68L734.85 580.93Z"/>
<path class="d" d="M741.5 575.18L745.15 580.93L741.5 586.68L737.85 580.93Z"/>
<path class="w" d="M518.5 595.51H604M679 595.51H725.2M518.5 593.31V597.71M725.2 593.31V597.71"/>
<rect class="b" x="604" y="591.11" width="75" height="8.8" fill="#a5ceb1"/>
<path class="w" style="stroke-linecap:butt" d="M641.8 591.11V599.91"/>
<path class="d" d="M471.1 589.76L474.75 595.51L471.1 601.26L467.45 595.51Z"/>
<path class="d" d="M504.8 589.76L508.45 595.51L504.8 601.26L501.15 595.51Z"/>
<path class="d" d="M516.5 589.76L520.15 595.51L516.5 601.26L512.85 595.51Z"/>
<path class="d" d="M734.9 589.76L738.55 595.51L734.9 601.26L731.25 595.51Z"/>
<path class="d" d="M788.1 589.76L791.75 595.51L788.1 601.26L784.45 595.51Z"/>
<path class="d" d="M805.7 589.76L809.35 595.51L805.7 601.26L802.05 595.51Z"/>
<path class="w" d="M529.1 610.09H592M671.3 610.09H762.5M529.1 607.89V612.29M762.5 607.89V612.29"/>
<rect class="b" x="592" y="605.69" width="79.3" height="8.8" fill="#b1d4b7"/>
<path class="w" style="stroke-linecap:butt" d="M627.8 605.69V614.49"/>
<path class="d" d="M471.1 604.34L474.75 610.09L471.1 615.84L467.45 610.09Z"/>
<path class="d" d="M517.1 604.34L520.75 610.09L517.1 615.84L513.45 610.09Z"/>
<path class="d" d="M518.8 604.34L522.45 610.09L518.8 615.84L515.15 610.09Z"/>
<path class="d" d="M763.5 604.34L767.15 610.09L763.5 615.84L759.85 610.09Z"/>
<path class="d" d="M777.4 604.34L781.05 610.09L777.4 615.84L773.75 610.09Z"/>
<path class="d" d="M822 604.34L825.65 610.09L822 615.84L818.35 610.09Z"/>
<path class="w" d="M553 624.68H590.3M651 624.68H727.2M553 622.48V626.88M727.2 622.48V626.88"/>
<rect class="b" x="590.3" y="620.28" width="60.7" height="8.8" fill="#bad8be"/>
<path class="w" style="stroke-linecap:butt" d="M618.5 620.28V629.08"/>
<path class="d" d="M471.1 618.93L474.75 624.68L471.1 630.43L467.45 624.68Z"/>
<path class="d" d="M520.5 618.93L524.15 624.68L520.5 630.43L516.85 624.68Z"/>
<path class="d" d="M530.8 618.93L534.45 624.68L530.8 630.43L527.15 624.68Z"/>
<path class="d" d="M734 618.93L737.65 624.68L734 630.43L730.35 624.68Z"/>
<path class="d" d="M737 618.93L740.65 624.68L737 630.43L733.35 624.68Z"/>
<path class="w" d="M521.1 639.26H586M654.7 639.26H709.3M521.1 637.06V641.46M709.3 637.06V641.46"/>
<rect class="b" x="586" y="634.86" width="68.7" height="8.8" fill="#c3ddc4"/>
<path class="w" style="stroke-linecap:butt" d="M618.9 634.86V643.66"/>
<path class="d" d="M471.1 633.51L474.75 639.26L471.1 645.01L467.45 639.26Z"/>
<path class="d" d="M501.8 633.51L505.45 639.26L501.8 645.01L498.15 639.26Z"/>
<path class="d" d="M519.8 633.51L523.45 639.26L519.8 645.01L516.15 639.26Z"/>
<path class="d" d="M719.9 633.51L723.55 639.26L719.9 645.01L716.25 639.26Z"/>
<path class="d" d="M721.4 633.51L725.05 639.26L721.4 645.01L717.75 639.26Z"/>
<path class="d" d="M741.2 633.51L744.85 639.26L741.2 645.01L737.55 639.26Z"/>
<path class="w" d="M539.6 653.85H581M651.7 653.85H703.3M539.6 651.65V656.05M703.3 651.65V656.05"/>
<rect class="b" x="581" y="649.45" width="70.7" height="8.8" fill="#cde3ce"/>
<path class="w" style="stroke-linecap:butt" d="M621.8 649.45V658.25"/>
<path class="d" d="M471.1 648.1L474.75 653.85L471.1 659.6L467.45 653.85Z"/>
<path class="d" d="M534 648.1L537.65 653.85L534 659.6L530.35 653.85Z"/>
<path class="d" d="M538.4 648.1L542.05 653.85L538.4 659.6L534.75 653.85Z"/>
<path class="d" d="M718.6 648.1L722.25 653.85L718.6 659.6L714.95 653.85Z"/>
<path class="d" d="M720.9 648.1L724.55 653.85L720.9 659.6L717.25 653.85Z"/>
<path class="d" d="M746.8 648.1L750.45 653.85L746.8 659.6L743.15 653.85Z"/>
<path class="w" d="M536.4 668.43H581M637.7 668.43H736.5M536.4 666.23V670.63M736.5 666.23V670.63"/>
<rect class="b" x="581" y="664.03" width="56.7" height="8.8" fill="#d5e8d6"/>
<path class="w" style="stroke-linecap:butt" d="M610.9 664.03V672.83"/>
<path class="d" d="M471.1 662.68L474.75 668.43L471.1 674.18L467.45 668.43Z"/>
<path class="d" d="M527.1 662.68L530.75 668.43L527.1 674.18L523.45 668.43Z"/>
<path class="d" d="M533.4 662.68L537.05 668.43L533.4 674.18L529.75 668.43Z"/>
<path class="d" d="M535.1 662.68L538.75 668.43L535.1 674.18L531.45 668.43Z"/>
<path class="d" d="M745.5 662.68L749.15 668.43L745.5 674.18L741.85 668.43Z"/>
<path class="d" d="M746.8 662.68L750.45 668.43L746.8 674.18L743.15 668.43Z"/>
<path class="d" d="M762.5 662.68L766.15 668.43L762.5 674.18L758.85 668.43Z"/>
<path class="w" d="M524.8 683.01H581M640.4 683.01H694.3M524.8 680.81V685.21M694.3 680.81V685.21"/>
<rect class="b" x="581" y="678.61" width="59.4" height="8.8" fill="#ddecde"/>
<path class="w" style="stroke-linecap:butt" d="M613.9 678.61V687.41"/>
<path class="d" d="M471.1 677.26L474.75 683.01L471.1 688.76L467.45 683.01Z"/>
<path class="d" d="M522.1 677.26L525.75 683.01L522.1 688.76L518.45 683.01Z"/>
<path class="d" d="M704.3 677.26L707.95 683.01L704.3 688.76L700.65 683.01Z"/>
<path class="d" d="M706 677.26L709.65 683.01L706 688.76L702.35 683.01Z"/>
<path class="d" d="M714.3 677.26L717.95 683.01L714.3 688.76L710.65 683.01Z"/>
<rect x="421.7" y="4.86" width="1079.9" height="685.44" fill="none" stroke="#000" stroke-width="1.15"/>
</svg></body></html>
